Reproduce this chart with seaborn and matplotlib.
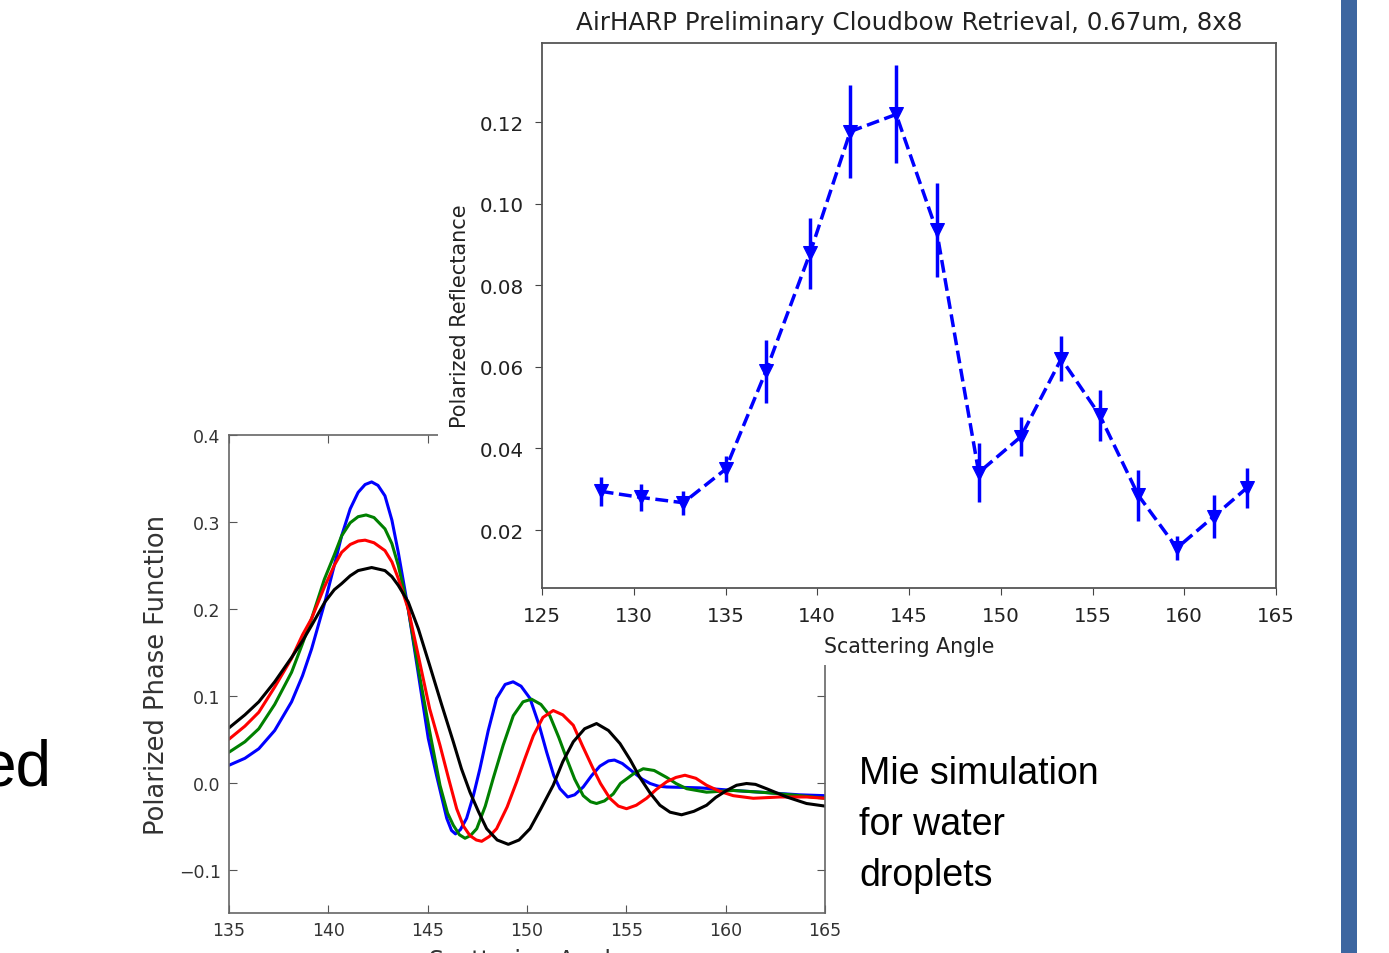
import numpy as np
import pandas as pd
import matplotlib
matplotlib.use("Agg")
import matplotlib.pyplot as plt
from matplotlib.patches import Rectangle
import seaborn as sns

# --- Mie simulation curves ---
blue_x = [135.0, 135.8, 136.5, 137.3, 138.15, 138.7, 139.16, 139.83, 140.3, 140.67, 141.1, 141.5, 141.85,
          142.18, 142.5, 142.85, 143.2, 143.52, 144.02, 144.53, 145.03, 145.45, 145.96, 146.2, 146.4, 146.65,
          146.96, 147.3, 147.63, 148.05, 148.47, 148.9, 149.3, 149.7, 150.15, 150.6, 150.99, 151.35, 151.66,
          152.05, 152.4, 152.83, 153.25, 153.67, 154.1, 154.4, 154.8, 155.35, 155.8, 156.2, 156.6, 157.03,
          158.7, 160.4, 162.1, 163.7, 165.0]
blue_y = [0.020, 0.028, 0.039, 0.060, 0.093, 0.123, 0.154, 0.208, 0.250, 0.284, 0.315, 0.334, 0.343,
          0.346, 0.342, 0.330, 0.302, 0.265, 0.200, 0.125, 0.051, 0.008, -0.041, -0.055, -0.059, -0.054,
          -0.041, -0.015, 0.016, 0.060, 0.097, 0.113, 0.116, 0.111, 0.097, 0.067, 0.035, 0.008, -0.007,
          -0.0165, -0.014, -0.005, 0.008, 0.019, 0.025, 0.026, 0.022, 0.012, 0.004, -0.001, -0.004, -0.005,
          -0.006, -0.009, -0.0115, -0.014, -0.015]

green_x = [135.0, 135.8, 136.5, 137.3, 138.15, 138.7, 139.16, 139.8, 140.3, 140.67, 141.1, 141.5, 141.9,
           142.3, 142.85, 143.2, 143.52, 144.02, 144.53, 145.1, 145.62, 146.0, 146.29, 146.6, 146.88, 147.15,
           147.47, 147.9, 148.3, 148.8, 149.31, 149.8, 150.23, 150.7, 151.15, 151.6, 151.99, 152.4, 152.83,
           153.2, 153.5, 153.9, 154.34, 154.7, 155.35, 155.85, 156.4, 157.03, 157.5, 158.04, 159.04, 160.38,
           162.06, 163.74, 165.0]
green_y = [0.035, 0.047, 0.062, 0.090, 0.127, 0.160, 0.189, 0.234, 0.262, 0.284, 0.299, 0.306, 0.308,
           0.305, 0.292, 0.275, 0.250, 0.200, 0.131, 0.059, -0.003, -0.035, -0.049, -0.060, -0.064, -0.061,
           -0.053, -0.027, 0.005, 0.043, 0.077, 0.093, 0.096, 0.090, 0.077, 0.052, 0.028, 0.004, -0.015,
           -0.022, -0.024, -0.021, -0.013, -0.001, 0.010, 0.016, 0.014, 0.006, -0.001, -0.007, -0.011, -0.009,
           -0.0115, -0.015, -0.018]

red_x = [135.0, 135.8, 136.5, 137.3, 138.15, 138.7, 139.16, 139.8, 140.3, 140.67, 141.1, 141.5, 141.85,
         142.3, 142.85, 143.2, 143.52, 144.02, 144.53, 145.1, 145.62, 146.05, 146.46, 146.8, 147.13, 147.45,
         147.72, 148.1, 148.47, 149.0, 149.48, 149.9, 150.32, 150.8, 151.32, 151.8, 152.33, 152.8, 153.33,
         153.7, 154.17, 154.6, 155.01, 155.5, 156.02, 156.5, 157.03, 157.5, 157.95, 158.5, 159.04, 159.7,
         160.38, 161.39, 162.73, 164.07, 165.0]
red_y = [0.050, 0.065, 0.081, 0.110, 0.143, 0.170, 0.189, 0.225, 0.250, 0.265, 0.274, 0.278, 0.279,
         0.276, 0.267, 0.254, 0.235, 0.200, 0.146, 0.085, 0.043, 0.005, -0.030, -0.050, -0.061, -0.066,
         -0.0675, -0.062, -0.053, -0.028, 0.001, 0.028, 0.054, 0.075, 0.083, 0.078, 0.066, 0.042, 0.016,
         -0.001, -0.018, -0.027, -0.030, -0.026, -0.018, -0.008, 0.001, 0.006, 0.0085, 0.005, -0.003, -0.010,
         -0.015, -0.018, -0.0165, -0.0165, -0.018]

black_x = [135.0, 135.8, 136.5, 137.3, 138.15, 138.7, 139.16, 139.83, 140.3, 140.67, 141.1, 141.5, 142.18,
           142.85, 143.2, 143.52, 144.02, 144.53, 145.1, 145.7, 146.29, 146.7, 147.13, 147.55, 147.97, 148.5,
           149.06, 149.6, 150.15, 150.7, 151.32, 151.8, 152.33, 152.9, 153.5, 154.1, 154.68, 155.2, 155.68,
           156.2, 156.69, 157.2, 157.78, 158.4, 159.04, 159.5, 160.05, 160.55, 161.05, 161.5, 162.06, 163.07,
           164.07, 165.0]
black_y = [0.063, 0.078, 0.093, 0.116, 0.144, 0.163, 0.181, 0.208, 0.222, 0.229, 0.238, 0.244, 0.2475,
           0.244, 0.237, 0.227, 0.208, 0.177, 0.135, 0.090, 0.047, 0.016, -0.011, -0.033, -0.053, -0.066,
           -0.071, -0.066, -0.053, -0.030, -0.003, 0.024, 0.047, 0.062, 0.068, 0.060, 0.045, 0.026, 0.006,
           -0.012, -0.026, -0.034, -0.037, -0.033, -0.026, -0.017, -0.009, -0.003, -0.001, -0.002, -0.007,
           -0.0165, -0.024, -0.027]

# --- AirHARP retrieval points ---
angle = [128.2, 130.4, 132.7, 135.0, 137.2, 139.6, 141.8, 144.3, 146.5, 148.8, 151.1, 153.3, 155.4,
         157.5, 159.6, 161.6, 163.4]
refl = [0.0295, 0.0280, 0.0267, 0.0349, 0.0589, 0.0878, 0.1177, 0.1219, 0.0935, 0.0341, 0.0429, 0.0620,
        0.0481, 0.0285, 0.0156, 0.0233, 0.0303]
refl_err = [0.0036, 0.0033, 0.0030, 0.0032, 0.0077, 0.0086, 0.0115, 0.0120, 0.0115, 0.0072, 0.0047,
            0.0055, 0.0063, 0.0063, 0.0030, 0.0052, 0.0050]

slide_lines = ["Mie simulation", "for water", "droplets"]

sns.set_style("white")
plt.rcParams["font.family"] = ["DejaVu Sans"]

W, H = 1389, 954
fig = plt.figure(figsize=(W / 100, H / 100), dpi=100)

# lower-left Mie plot
ax1 = fig.add_axes([229 / W, 1 - 914 / H, (825 - 229) / W, (914 - 436) / H])
ax1.set_zorder(0)
for xs, ys, c in [(blue_x, blue_y, "b"), (green_x, green_y, "g"), (red_x, red_y, "r"), (black_x, black_y, "k")]:
    sns.lineplot(x=xs, y=ys, color=c, lw=2.2, sort=False, ax=ax1,
                 solid_joinstyle="round", solid_capstyle="round")
ax1.set_xlim(135, 165)
ax1.set_ylim(-0.15, 0.4)
ax1.set_xticks([135, 140, 145, 150, 155, 160, 165])
ax1.set_yticks([-0.1, 0.0, 0.1, 0.2, 0.3, 0.4])
ax1.set_yticklabels(["\u22120.1", "0.0", "0.1", "0.2", "0.3", "0.4"])
ax1.tick_params(direction="in", top=True, right=True, left=True, bottom=True, length=6,
                labelsize=12.5, colors="#555555", labelcolor="#333333", pad=6)
for s in ax1.spines.values():
    s.set_color("#666666")
    s.set_linewidth(1.2)
ax1.set_xlabel("Scattering Angle", fontsize=17, color="#333333", labelpad=6)
ax1.set_ylabel("Polarized Phase Function", fontsize=18.5, color="#333333", labelpad=6)

# white block of the pasted upper figure
fig.add_artist(Rectangle((438 / W, 1 - 666 / H), (1300 - 438) / W, 666 / H,
                         transform=fig.transFigure, facecolor="white", edgecolor="none", zorder=1))

# upper-right retrieval plot
ax2 = fig.add_axes([542 / W, 1 - 589 / H, (1276 - 542) / W, (589 - 44) / H])
ax2.set_zorder(2)
ax2.vlines(angle, np.array(refl) - np.array(refl_err), np.array(refl) + np.array(refl_err),
           color="#0000ff", lw=2.5)
sns.lineplot(x=angle, y=refl, color="#0000ff", lw=2.5, linestyle="--", marker="v",
             markersize=10, markeredgecolor="#0000ff", ax=ax2)
ax2.set_xlim(125, 165)
ax2.set_ylim(0.0058, 0.1394)
ax2.set_xticks([125, 130, 135, 140, 145, 150, 155, 160, 165])
ax2.set_yticks([0.02, 0.04, 0.06, 0.08, 0.10, 0.12])
ax2.set_yticklabels(["0.02", "0.04", "0.06", "0.08", "0.10", "0.12"])
ax2.tick_params(direction="out", length=5, labelsize=14.3, colors="#444444", labelcolor="#222222",
                left=True, bottom=True, pad=8)
for s in ax2.spines.values():
    s.set_color("#555555")
    s.set_linewidth(1.3)
ax2.set_title("AirHARP Preliminary Cloudbow Retrieval, 0.67um, 8x8", fontsize=17.7, color="#222222", pad=10)
ax2.set_xlabel("Scattering Angle", fontsize=14.8, color="#222222", labelpad=8)
ax2.set_ylabel("Polarized Reflectance", fontsize=15, color="#222222", labelpad=7)

# slide text
sans = ["Liberation Sans Narrow", "Liberation Sans", "DejaVu Sans"]
for i, line in enumerate(slide_lines):
    fig.text(859 / W, 1 - (784 + 51 * i) / H, line, family=sans, fontsize=27,
             ha="left", va="baseline", color="black")
fig.text(51 / W, 1 - 786 / H, "ed", family=sans, fontsize=46, ha="right", va="baseline", color="black")

# blue bar at the right
fig.add_artist(Rectangle((1341 / W, 0), 16 / W, 1, transform=fig.transFigure,
                         facecolor="#3d66a0", edgecolor="none", zorder=3))

fig.savefig("out.png", dpi=100)
